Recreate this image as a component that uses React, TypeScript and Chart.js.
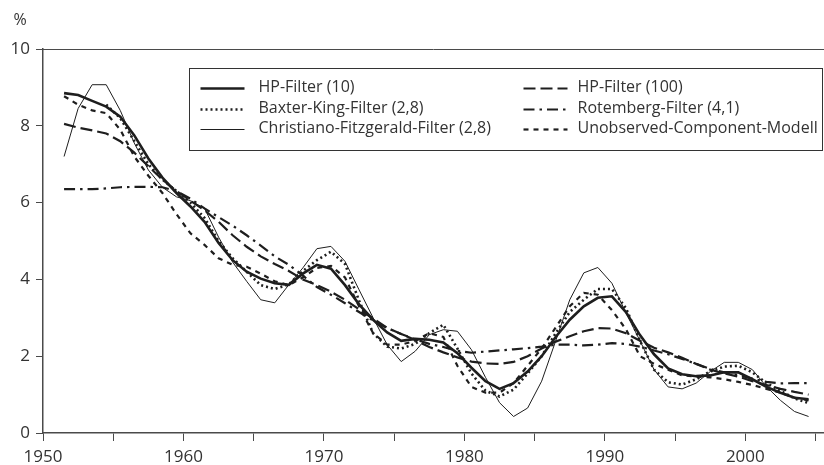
import React, { useEffect, useRef } from 'react';
import { Chart, registerables } from 'chart.js';

Chart.register(...registerables);

// Observation years (annual, plotted at mid-year)
const years = [
  1951, 1952, 1953, 1954, 1955, 1956, 1957, 1958, 1959, 1960,
  1961, 1962, 1963, 1964, 1965, 1966, 1967, 1968, 1969, 1970,
  1971, 1972, 1973, 1974, 1975, 1976, 1977, 1978, 1979, 1980,
  1981, 1982, 1983, 1984, 1985, 1986, 1987, 1988, 1989, 1990,
  1991, 1992, 1993, 1994, 1995, 1996, 1997, 1998, 1999, 2000,
  2001, 2002, 2003, 2004,
];

const hp10 = [
  8.85, 8.8, 8.65, 8.5, 8.24, 7.75, 7.15, 6.65, 6.25, 5.9,
  5.5, 4.95, 4.5, 4.2, 4.02, 3.9, 3.86, 4.15, 4.38, 4.28,
  3.85, 3.35, 2.95, 2.62, 2.4, 2.45, 2.43, 2.36, 2.08, 1.7,
  1.35, 1.15, 1.3, 1.6, 2.0, 2.5, 2.95, 3.3, 3.52, 3.56,
  3.15, 2.55, 2.05, 1.68, 1.53, 1.48, 1.5, 1.58, 1.58, 1.4,
  1.2, 1.05, 0.92, 0.88,
];

const hp100 = [
  8.05, 7.95, 7.88, 7.8, 7.6, 7.3, 6.95, 6.6, 6.3, 6.05,
  5.8, 5.5, 5.15, 4.85, 4.6, 4.4, 4.22, 4.0, 3.85, 3.68,
  3.47, 3.22, 2.98, 2.74, 2.58, 2.42, 2.24, 2.1, 1.97, 1.86,
  1.81, 1.8, 1.85, 2.0, 2.2, 2.38, 2.52, 2.65, 2.73, 2.72,
  2.6, 2.4, 2.22, 2.1, 1.96, 1.8, 1.65, 1.55, 1.47, 1.35,
  1.25, 1.15, 1.07, 1.0,
];

const baxterKing = [
  null, null, null, 8.55, 8.2, 7.6, 7.0, 6.6, 6.3, 6.0,
  5.6, 5.0, 4.55, 4.2, 3.85, 3.75, 3.87, 4.22, 4.5, 4.72,
  4.4, 3.45, 2.6, 2.25, 2.2, 2.32, 2.6, 2.82, 2.2, 1.55,
  1.1, 0.95, 1.13, 1.55, 2.0, 2.6, 3.15, 3.47, 3.75, 3.75,
  3.25, 2.4, 1.65, 1.32, 1.26, 1.4, 1.6, 1.73, 1.75, 1.58,
  1.3, 1.1, 0.9, 0.78,
];

const rotemberg = [
  6.35, 6.35, 6.35, 6.37, 6.4, 6.41, 6.41, 6.4, 6.3, 6.1,
  5.85, 5.62, 5.4, 5.15, 4.88, 4.6, 4.38, 4.1, 3.8, 3.6,
  3.38, 3.15, 2.93, 2.73, 2.58, 2.44, 2.32, 2.24, 2.14, 2.09,
  2.12, 2.15, 2.18, 2.21, 2.25, 2.3, 2.3, 2.28, 2.3, 2.34,
  2.32, 2.25, 2.15, 2.05, 1.93, 1.8, 1.67, 1.58, 1.5, 1.42,
  1.33, 1.29, 1.3, 1.3,
];

const christianoFitzgerald = [
  7.2, 8.45, 9.07, 9.07, 8.4, 7.55, 6.85, 6.4, 6.15, 6.05,
  5.85, 5.1, 4.45, 3.95, 3.47, 3.39, 3.86, 4.3, 4.8, 4.86,
  4.47, 3.73, 3.0, 2.3, 1.86, 2.13, 2.56, 2.69, 2.65, 2.17,
  1.45, 0.79, 0.43, 0.65, 1.35, 2.4, 3.47, 4.17, 4.31, 3.9,
  3.13, 2.4, 1.65, 1.2, 1.15, 1.3, 1.6, 1.84, 1.84, 1.65,
  1.21, 0.85, 0.56, 0.43,
];

const unobservedComponent = [
  8.77, 8.55, 8.4, 8.33, 7.9, 7.2, 6.7, 6.25, 5.7, 5.2,
  4.9, 4.55, 4.38, 4.33, 4.15, 3.95, 3.85, 4.05, 4.3, 4.35,
  4.05, 3.3, 2.6, 2.3, 2.3, 2.4, 2.6, 2.5, 1.75, 1.2,
  1.05, 1.05, 1.3, 1.75, 2.2, 2.75, 3.3, 3.65, 3.6, 3.2,
  2.7, 2.0, 1.8, 1.65, 1.5, 1.47, 1.45, 1.4, 1.33, 1.25,
  1.15, 1.05, 0.92, 0.85,
];

const seriesLabels = [
  'HP-Filter (10)',
  'HP-Filter (100)',
  'Baxter-King-Filter (2,8)',
  'Rotemberg-Filter (4,1)',
  'Christiano-Fitzgerald-Filter (2,8)',
  'Unobserved-Component-Modell',
];

const xTicks = [1950, 1955, 1960, 1965, 1970, 1975, 1980, 1985, 1990, 1995, 2000, 2005];
const xLabelled = [1950, 1960, 1970, 1980, 1990, 2000];
const yTicks = [0, 2, 4, 6, 8, 10];

const INK = '#1e1e1e';
const AXIS = '#4a4a4a';
const FONT = '"Open Sans", "Noto Sans", sans-serif';

const toPoints = (vals: (number | null)[]) =>
  years.map((yr, i) => ({ x: yr + 0.5, y: vals[i] }));

const framePlugin = {
  id: 'frameAndLegend',
  afterDraw(chart: any) {
    const { ctx, chartArea: a } = chart;
    ctx.save();
    // top frame line
    ctx.strokeStyle = AXIS;
    ctx.lineWidth = 1;
    ctx.setLineDash([]);
    ctx.beginPath();
    ctx.moveTo(a.left, Math.round(a.top) + 0.5);
    ctx.lineTo(a.right, Math.round(a.top) + 0.5);
    ctx.stroke();

    // unit label
    ctx.fillStyle = '#333';
    ctx.font = `16px ${FONT}`;
    ctx.textAlign = 'center';
    ctx.textBaseline = 'middle';
    ctx.fillText('%', a.left - 23, a.top - 29);

    // legend box
    const bx = Math.round(a.left + 146) + 0.5;
    const by = Math.round(a.top + 19) + 0.5;
    const bw = Math.round(a.right - 2 - bx);
    const bh = 82;
    ctx.fillStyle = '#fff';
    ctx.fillRect(bx, by, bw, bh);
    ctx.strokeStyle = '#333';
    ctx.lineWidth = 1;
    ctx.strokeRect(bx, by, bw, bh);

    const colSample = [bx + 11, bx + 334];
    const colText = [bx + 69, bx + 388];
    const rowY = [by + 19, by + 40, by + 60];
    chart.data.datasets.forEach((ds: any, i: number) => {
      const c = i % 2;
      const r = Math.floor(i / 2);
      const y = Math.round(rowY[r]) + 0.5;
      ctx.strokeStyle = ds.borderColor;
      ctx.lineWidth = ds.borderWidth;
      ctx.setLineDash(ds.borderDash || []);
      ctx.lineCap = 'butt';
      ctx.beginPath();
      ctx.moveTo(colSample[c], y);
      ctx.lineTo(colSample[c] + 44, y);
      ctx.stroke();
      ctx.setLineDash([]);
      ctx.fillStyle = '#333';
      ctx.font = `16px ${FONT}`;
      ctx.textAlign = 'left';
      ctx.textBaseline = 'middle';
      ctx.fillText(ds.label, colText[c], rowY[r]);
    });
    ctx.restore();
  },
};

export default function App() {
  const canvasRef = useRef<HTMLCanvasElement | null>(null);

  useEffect(() => {
    if (!canvasRef.current) return;
    const seriesValues = [hp10, hp100, baxterKing, rotemberg, christianoFitzgerald, unobservedComponent];
    const styles = [
      { borderWidth: 2.6, borderDash: [] as number[] },
      { borderWidth: 2.2, borderDash: [12, 5] },
      { borderWidth: 2.6, borderDash: [2, 3] },
      { borderWidth: 2.2, borderDash: [11, 5, 2.5, 5] },
      { borderWidth: 1, borderDash: [] as number[] },
      { borderWidth: 2.2, borderDash: [5, 5] },
    ];
    const chart = new Chart(canvasRef.current, {
      type: 'line',
      data: {
        datasets: seriesValues.map((vals, i) => ({
          label: seriesLabels[i],
          data: toPoints(vals),
          borderColor: INK,
          backgroundColor: INK,
          borderWidth: styles[i].borderWidth,
          borderDash: styles[i].borderDash,
          pointRadius: 0,
          tension: 0,
          fill: false,
          spanGaps: false,
        })),
      },
      options: {
        animation: false,
        responsive: false,
        events: [],
        layout: { padding: { top: 49, left: 0, right: 0, bottom: 0 } },
        plugins: {
          legend: { display: false },
          tooltip: { enabled: false },
          title: { display: false },
        },
        scales: {
          x: {
            type: 'linear',
            min: 1950,
            max: 2005.6,
            afterBuildTicks: (scale: any) => {
              scale.ticks = xTicks.map((v) => ({ value: v }));
            },
            afterFit: (scale: any) => {
              scale.height = 32;
            },
            ticks: {
              autoSkip: false,
              maxRotation: 0,
              padding: 6,
              color: '#333',
              font: { family: FONT, size: 17 },
              callback: (v: any) => (xLabelled.includes(Number(v)) ? String(v) : ''),
            },
            grid: {
              display: true,
              drawOnChartArea: false,
              drawTicks: true,
              tickLength: 8,
              color: AXIS,
              lineWidth: 1,
            },
            border: { display: true, color: AXIS, width: 1.5 },
          },
          y: {
            type: 'linear',
            min: 0,
            max: 10,
            afterBuildTicks: (scale: any) => {
              scale.ticks = yTicks.map((v) => ({ value: v }));
            },
            afterFit: (scale: any) => {
              scale.width = 43;
            },
            ticks: {
              padding: 6,
              color: '#333',
              font: { family: FONT, size: 17 },
              callback: (v: any) => String(v),
            },
            grid: {
              display: true,
              drawOnChartArea: false,
              drawTicks: true,
              tickLength: 7,
              color: AXIS,
              lineWidth: 1,
            },
            border: { display: true, color: AXIS, width: 1.5 },
          },
        },
      },
      plugins: [framePlugin],
    } as any);
    return () => chart.destroy();
  }, []);

  return (
    <div style={{ position: 'absolute', left: 0, top: 0, width: 824, height: 465, background: '#fff' }}>
      <canvas ref={canvasRef} width={824} height={465} style={{ display: 'block' }} />
    </div>
  );
}
